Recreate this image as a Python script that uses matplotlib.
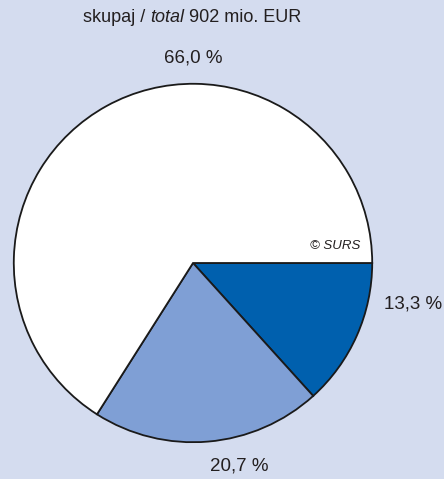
import matplotlib.pyplot as plt
from matplotlib import font_manager

# shares, clockwise from east
labels = ["13,3 %", "20,7 %", "66,0 %"]
shares = [13.3, 20.7, 66.0]
colors = ["#0060ae", "#7f9fd5", "#ffffff"]
title_parts = [("skupaj / ", "normal"), ("total", "italic"), (" 902 mio. EUR", "normal")]

names = {f.name for f in font_manager.fontManager.ttflist}
fam = "Liberation Sans Narrow" if "Liberation Sans Narrow" in names else "Liberation Sans"
plt.rcParams["font.family"] = [fam, "DejaVu Sans"]

bg = "#d4dcef"
ink = "#231f20"
fig = plt.figure(figsize=(4.44, 4.79), dpi=100, facecolor=bg)
W, H = 444, 479
cx, cy, r = 193, 263, 181
ax = fig.add_axes([(cx - r) / W, (H - cy - r) / H, 2 * r / W, 2 * r / H])
ax.pie(shares, colors=colors, startangle=0, counterclock=False, radius=1,
       wedgeprops=dict(edgecolor="#1a1a1a", linewidth=1.3))
ax.set_xlim(-1.01, 1.01)
ax.set_ylim(-1.01, 1.01)
ax.set_aspect("equal")
ax.axis("off")

def px(x, y, s, **kw):
    fig.text(x / W, 1 - y / H, s, ha="center", va="center", color=ink, **kw)

# title made of pieces (italic middle word), centred at x=192
fs_t = 13
fig.canvas.draw()
rend = fig.canvas.get_renderer()
widths = []
for s, st in title_parts:
    t = fig.text(0, 0, s, fontsize=fs_t, style=st)
    widths.append(t.get_window_extent(rend).width)
    t.remove()
x0 = 192 - sum(widths) / 2
for (s, st), w in zip(title_parts, widths):
    fig.text(x0 / W, 1 - 17 / H, s, ha="left", va="center", fontsize=fs_t,
             style=st, color=ink)
    x0 += w

px(193, 58, labels[2], fontsize=13.5)
px(413, 304, labels[0], fontsize=13.5)
px(239, 466, labels[1], fontsize=13.5)
px(335, 246, "© SURS", fontsize=9.5, style="italic")

fig.savefig("out.png", dpi=100, facecolor=bg)
